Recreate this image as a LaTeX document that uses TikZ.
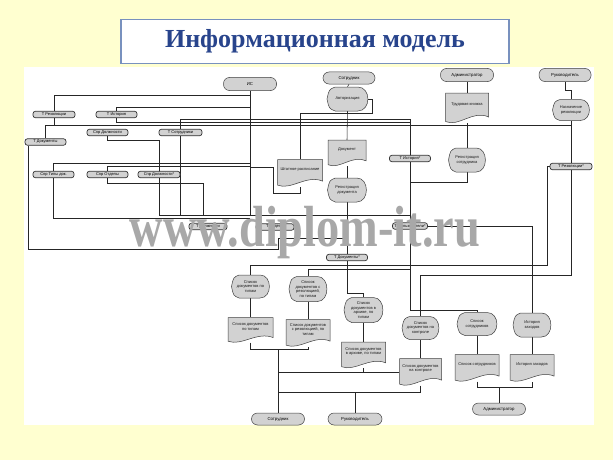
\documentclass[tikz,border=0pt]{standalone}
\usepackage{fontspec}
\newfontfamily\lsans{Liberation Sans}
\newfontfamily\lserif{Liberation Serif}
\pgfdeclarelayer{bgbase}
\pgfdeclarelayer{background}
\pgfsetlayers{bgbase,background,main}
\definecolor{bgyellow}{RGB}{255,255,208}
\definecolor{titleborder}{RGB}{120,145,190}
\definecolor{titletext}{RGB}{40,68,140}
\definecolor{wmgray}{RGB}{168,168,168}
\tikzset{
  shapest/.style={draw=black!75, fill=gray!35, line width=0.5pt},
  term/.style={draw=black!75, fill=gray!35, line width=0.5pt, rounded corners=6pt,
    minimum height=13pt, inner sep=0pt, font=\lsans\fontsize{4.3}{5}\selectfont},
  store/.style={draw=black!80, fill=gray!35, line width=0.7pt, rounded corners=2.5pt,
    minimum height=6.5pt, inner sep=0pt, font=\lsans\fontsize{4}{4.5}\selectfont},
  lbl/.style={align=center, inner sep=0pt, font=\lsans\fontsize{4}{4.6}\selectfont, text=black!90},
  conn/.style={draw=black!85, line width=0.55pt},
  titlebox/.style={draw=titleborder, line width=1.6pt, fill=white, minimum width=388pt,
    minimum height=44pt, inner sep=0pt, text=titletext, font=\lserif\bfseries\fontsize{26}{28}\selectfont},
  wm/.style={inner sep=0pt, text=wmgray, font=\lserif\bfseries\fontsize{58}{58}\selectfont},
}
% document shape: name, x, y, w, h, text
\newcommand{\docsh}[6]{%
  \path[shapest] ({#2-#4/2},{#3-#5/2}) -- ({#2+#4/2},{#3-#5/2}) -- ({#2+#4/2},{#3+#5/2-0.2*#5})
    .. controls ({#2+#4/2-0.35*#4},{#3+#5/2-0.45*#5}) and ({#2-#4/2+0.3*#4},{#3+#5/2+0.15*#5}) ..
    ({#2-#4/2},{#3+#5/2-0.05*#5}) -- cycle;
  \node[inner sep=0pt, minimum width=#4pt, minimum height=#5pt] (#1) at (#2,#3) {};
  \node[lbl] (#1-t) at (#2,{#3-0.13*#5}) {#6};
}
% display shape: name, x, y, w, h, text
\newcommand{\dispsh}[6]{%
  \path[shapest] ({#2-#4/2+0.2*#4},{#3-#5/2}) -- ({#2+#4/2-0.25*#4},{#3-#5/2})
    .. controls ({#2+#4/2+0.08*#4},{#3-#5/2}) and ({#2+#4/2+0.08*#4},{#3+#5/2}) ..
    ({#2+#4/2-0.25*#4},{#3+#5/2}) -- ({#2-#4/2+0.2*#4},{#3+#5/2})
    .. controls ({#2-#4/2+0.05*#4},{#3+#5/2-0.1*#5}) .. ({#2-#4/2},{#3})
    .. controls ({#2-#4/2+0.05*#4},{#3-#5/2+0.1*#5}) .. ({#2-#4/2+0.2*#4},{#3-#5/2}) -- cycle;
  \node[inner sep=0pt, minimum width=#4pt, minimum height=#5pt] (#1) at (#2,#3) {};
  \node[lbl] (#1-t) at (#2,#3) {#6};
}
\begin{document}
\begin{tikzpicture}[x=1pt,y=-1pt]
\useasboundingbox (0,0) rectangle (613,460);
\begin{pgfonlayer}{bgbase}
  \fill[bgyellow] (0,0) rectangle (613,460);
  \fill[white] (24,67) rectangle (594,425);
\end{pgfonlayer}

\node[titlebox] (title) at (315,41.5) {Информационная модель};

% terminators
\node[term, minimum width=53pt] (is) at (250,84) {ИС};
\node[term, minimum width=52pt, minimum height=12pt] (sotr1) at (349,78) {Сотрудник};
\node[term, minimum width=53pt] (admin1) at (467,75) {Администратор};
\node[term, minimum width=52pt] (ruk1) at (565,75) {Руководитель};
\node[term, minimum width=53pt, minimum height=12pt] (sotr2) at (278,419) {Сотрудник};
\node[term, minimum width=54pt, minimum height=12pt] (ruk2) at (355,419) {Руководитель};
\node[term, minimum width=53pt, minimum height=12pt] (admin2) at (499,409) {Администратор};

% stored data
\node[store, minimum width=42pt] (tRez) at (54,114.5) {Т Резолюции};
\node[store, minimum width=41pt] (tIst) at (116.5,114.5) {Т История};
\node[store, minimum width=41pt] (sDolzh) at (107.5,132.5) {Спр Должности};
\node[store, minimum width=43pt] (tSotr) at (180.5,132.5) {Т Сотрудники};
\node[store, minimum width=41pt] (tDok) at (45.5,142) {Т Документы};
\node[store, minimum width=41pt] (sTipy) at (53.5,174.5) {Спр Типы док.};
\node[store, minimum width=41pt] (sOtd) at (107.5,174.5) {Спр Отделы};
\node[store, minimum width=42pt] (sDolzh2) at (159,174.5) {Спр Должности*};
\node[store, minimum width=41pt] (tIst2) at (410,158.5) {Т История*};
\node[store, minimum width=42pt] (tRez2) at (571,166.5) {Т Резолюции*};
\node[store, minimum width=41pt] (tDok2) at (347,257.5) {Т Документы*};
\node[store, minimum width=38pt] (h1) at (208,226.5) {Т Должности};
\node[store, minimum width=38pt] (h2) at (275,227) {Т Отделы};
\node[store, minimum width=35pt] (h3) at (410,226) {Т Пользователи*};

% displays
\dispsh{avt}{347.5}{99}{41}{24}{Авторизация}
\dispsh{regDok}{347}{190}{39}{24}{Регистрация\\документа}
\dispsh{naznRez}{571}{110}{37}{21}{Назначение\\резолюции}
\dispsh{regSotr}{467}{160}{37}{24}{Регистрация\\сотрудника}
\dispsh{dSp1}{250.5}{286.5}{38}{23}{Список\\документов по\\типам}
\dispsh{dSp2}{308}{289}{38}{25}{Список\\документов с\\резолюцией,\\по типам}
\dispsh{dSp3}{363.5}{310}{39}{25}{Список\\документов в\\архиве, по\\типам}
\dispsh{dSp4}{420.5}{328}{37}{23}{Список\\документов на\\контроле}
\dispsh{dSp5}{477}{324}{40}{23}{Список\\сотрудников}
\dispsh{dSp6}{532}{325}{38}{24}{История\\заходов}

% documents
\docsh{dok}{347}{153}{38}{26}{Документ}
\docsh{shtat}{300}{173}{45}{27}{Штатное расписание}
\docsh{trud}{467}{108}{43}{30}{Трудовая книжка}
\docsh{oSp1}{250.5}{330}{45}{25}{Список документов\\по типам}
\docsh{oSp2}{308}{333}{44}{27}{Список документов\\с резолюцией, по\\типам}
\docsh{oSp3}{363.5}{355}{44}{26}{Список документов\\в архиве, по типам}
\docsh{oSp4}{420.5}{372}{42}{27}{Список документов\\на контроле}
\docsh{oSp5}{477}{368}{44}{27}{Список сотрудников}
\docsh{oSp6}{532}{368}{44}{27}{История заходов}

\begin{pgfonlayer}{background}
  % top area
  \draw[conn] (is.south) -- (250,215);
  \draw[conn] (tRez.north) |- (250,95);
  \draw[conn] (tIst.north) |- (250,107);
  \draw[conn] (tRez.south) |- (571,125) -- (naznRez.south);
  \draw[conn] (tDok.north) |- (54,125);
  \draw[conn] (tIst.south) |- (410,122);
  \draw[conn] (tSotr.north) |- (410,119) -- (410,310) -| (dSp5.north);
  \draw[conn] (sotr1.south) -- (avt.north);
  \draw[conn] (avt.south) -- (dok.north);
  \draw[conn] (avt.east) -| (372,113) -| (shtat.north);
  \draw[conn] (admin1.south) -- (trud.north);
  \draw[conn] (trud.south) -- (regSotr.north);
  \draw[conn] (ruk1.south) -- (565,90) -| (naznRez.north);
  \draw[conn] (regSotr.south) |- (410,182);
  \draw[conn] (dok.south) -- (regDok.north);
  \draw[conn] (regDok.south) -- (tDok2.north);
  \draw[conn] (is.south) |- (273,167) |- (300,193) -- (shtat.south);
  \draw[conn] (naznRez.south) -- (tRez2.north);
  \draw[conn] (tRez2.west) -| (547,265) -| (dSp1.north);
  \draw[conn] (tRez2.south) |- (420.5,275) -- (dSp4.north);
  \draw[conn] (dSp2.north) |- (410,269);
  \draw[conn] (tDok2.south) |- (363.5,293) -- (dSp3.north);
  \draw[conn] (h3.east) -| (dSp6.north);
  % left lower cluster
  \draw[conn] (sTipy.north) |- (250,163);
  \draw[conn] (sOtd.north) |- (250,166);
  \draw[conn] (sDolzh.south) |- (159,140) |- (410,215);
  \draw[conn] (tSotr.south) -- (180.5,215);
  \draw[conn] (sOtd.south) |- (203,183) -- (203,215);
  \draw[conn] (sTipy.south) |- (250,218);
  \draw[conn] ([xshift=4pt]tDok.south west) |- (278,249) |- (347,238);
  % bottom area
  \draw[conn] (dSp1.south) -- (oSp1.north);
  \draw[conn] (dSp2.south) -- (oSp2.north);
  \draw[conn] (dSp3.south) -- (oSp3.north);
  \draw[conn] (dSp4.south) -- (oSp4.north);
  \draw[conn] (dSp5.south) -- (oSp5.north);
  \draw[conn] (dSp6.south) -- (oSp6.north);
  \draw[conn] (oSp1.south) |- (308,349) -- (oSp2.south);
  \draw[conn] (sotr2.north) -- (278,349);
  \draw[conn] (oSp4.west) -- (278,372);
  \draw[conn] (oSp3.south) -- (363.5,372);
  \draw[conn] (oSp4.south) |- (278,392);
  \draw[conn] (ruk2.north) -- (355,392);
  \draw[conn] (oSp5.south) |- (532,387) -- (oSp6.south);
  \draw[conn] (admin2.north) -- (499,387);
\end{pgfonlayer}

\node[wm, anchor=base] (wm) at (305,246) {\scalebox{0.8}[1]{www.diplom-it.ru}};
\end{tikzpicture}
\end{document}
